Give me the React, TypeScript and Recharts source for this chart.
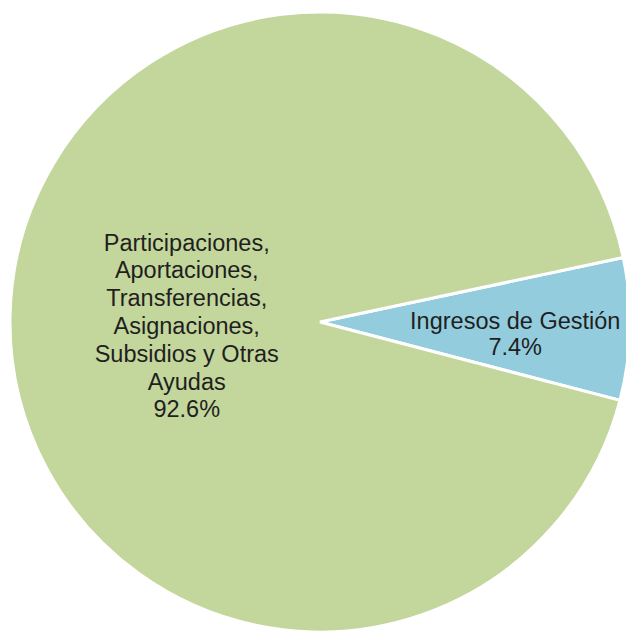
import React from 'react';
import { PieChart, Pie, Cell } from 'recharts';

// slice names (split into the lines shown on the chart) and their shares
const labelLines: string[][] = [
  ['Ingresos de Gestión'],
  ['Participaciones,', 'Aportaciones,', 'Transferencias,', 'Asignaciones,', 'Subsidios y Otras', 'Ayudas'],
];
const shares = [7.4, 92.6];
const sliceColors = ['#93CDDD', '#C3D69B'];

const chartData = shares.map((value, i) => ({
  name: labelLines[i].join(' '),
  value,
}));

const RADIAN = Math.PI / 180;
const FONT = '"Liberation Sans", Arial, sans-serif';

// label placement per slice: distance from centre (share of radius), vertical nudge, line height
const labelPos = [0.63, 0.43];
const labelNudge = [8, 7];
const lineHeights = [26, 27.8];

const renderLabel = (props: any) => {
  const { cx, cy, midAngle, outerRadius, index, value } = props;
  const r = outerRadius * labelPos[index];
  const x = cx + r * Math.cos(-midAngle * RADIAN);
  const y = cy + r * Math.sin(-midAngle * RADIAN) + labelNudge[index];
  const lh = lineHeights[index];
  const lines = [...labelLines[index], `${Number(value).toFixed(1)}%`];
  const top = y - ((lines.length - 1) * lh) / 2;
  return (
    <text
      x={x}
      y={top}
      textAnchor="middle"
      dominantBaseline="central"
      fill="#1f1f1f"
      fontSize={23.5}
      fontFamily={FONT}
    >
      {lines.map((line, i) => (
        <tspan key={i} x={x} y={top + i * lh}>
          {line}
        </tspan>
      ))}
    </text>
  );
};

const App: React.FC = () => {
  return (
    <div style={{ position: 'absolute', left: 0, top: 0, background: '#fff' }}>
      <PieChart width={626} height={631} margin={{ top: 0, right: 0, bottom: 0, left: 0 }}>
        <Pie
          data={chartData}
          dataKey="value"
          nameKey="name"
          cx={320}
          cy={322}
          outerRadius={310}
          startAngle={12}
          endAngle={-348}
          stroke="#ffffff"
          strokeWidth={3}
          label={renderLabel}
          labelLine={false}
          isAnimationActive={false}
        >
          {chartData.map((_, i) => (
            <Cell key={i} fill={sliceColors[i]} />
          ))}
        </Pie>
      </PieChart>
    </div>
  );
};

export default App;
